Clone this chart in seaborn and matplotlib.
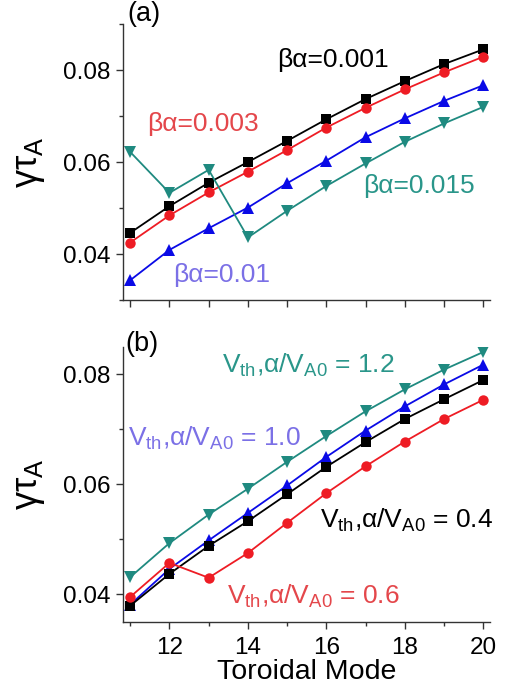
import numpy as np
import pandas as pd
import matplotlib
matplotlib.use('Agg')
import matplotlib.pyplot as plt
from matplotlib.ticker import MultipleLocator
import seaborn as sns

# toroidal mode numbers
modes = list(range(11, 21))

# panel (a): growth rate for different beta_alpha
beta_001 = [0.0446, 0.0504, 0.0555, 0.0600, 0.0646, 0.0693, 0.0737, 0.0776, 0.0813, 0.0845]
beta_003 = [0.0425, 0.0484, 0.0534, 0.0579, 0.0626, 0.0675, 0.0718, 0.0758, 0.0795, 0.0829]
beta_01 = [0.0343, 0.0409, 0.0456, 0.0501, 0.0554, 0.0603, 0.0654, 0.0695, 0.0733, 0.0767]
beta_015 = [0.0622, 0.0533, 0.0583, 0.0436, 0.0494, 0.0548, 0.0597, 0.0644, 0.0684, 0.0720]

# panel (b): growth rate for different V_th,alpha / V_A0
vth_04 = [0.0379, 0.0437, 0.0488, 0.0533, 0.0582, 0.0632, 0.0677, 0.0719, 0.0755, 0.0790]
vth_06 = [0.0395, 0.0457, 0.0430, 0.0475, 0.0530, 0.0584, 0.0633, 0.0678, 0.0719, 0.0754]
vth_10 = [0.0381, 0.0446, 0.0498, 0.0548, 0.0598, 0.0650, 0.0698, 0.0742, 0.0782, 0.0818]
vth_12 = [0.0431, 0.0493, 0.0545, 0.0592, 0.0641, 0.0688, 0.0733, 0.0773, 0.0809, 0.0841]

BLACK = '#000000'
RED = '#ee1c24'
BLUE = '#0a0ae6'
TEAL = '#1f8a80'
RED_TXT = '#e4474b'
BLUE_TXT = '#7b70e6'
TEAL_TXT = '#2a968a'

sns.set_style('ticks')
plt.rcParams['font.family'] = ['Liberation Sans', 'DejaVu Sans']
plt.rcParams['mathtext.fontset'] = 'custom'
plt.rcParams['mathtext.rm'] = 'Liberation Sans'
plt.rcParams['text.color'] = 'black'
plt.rcParams['axes.labelcolor'] = 'black'
plt.rcParams['xtick.color'] = 'black'
plt.rcParams['ytick.color'] = 'black'

fig = plt.figure(figsize=(5.06, 6.91), dpi=100)
ax_a = fig.add_axes([0.2425, 0.5658, 0.726, 0.3994])
ax_b = fig.add_axes([0.2425, 0.1003, 0.726, 0.3975])


def draw(ax, vals, color, marker, ms):
    sns.lineplot(x=modes, y=vals, ax=ax, color=color, marker=marker,
                 markersize=ms, markeredgewidth=0, linewidth=1.3)


draw(ax_a, beta_001, BLACK, 's', 7)
draw(ax_a, beta_003, RED, 'o', 7.5)
draw(ax_a, beta_01, BLUE, '^', 8)
draw(ax_a, beta_015, TEAL, 'v', 8)

draw(ax_b, vth_12, TEAL, 'v', 8)
draw(ax_b, vth_10, BLUE, '^', 8)
draw(ax_b, vth_04, BLACK, 's', 7)
draw(ax_b, vth_06, RED, 'o', 7.5)

ylab = r'γτ$_\mathregular{A}$'
for ax, ylim in [(ax_a, (0.030, 0.090)), (ax_b, (0.035, 0.085))]:
    ax.set_xlim(10.81, 20.17)
    ax.set_ylim(*ylim)
    ax.yaxis.set_minor_locator(MultipleLocator(0.01))
    ax.set_yticks([0.04, 0.06, 0.08])
    ax.set_yticklabels(['0.04', '0.06', '0.08'])
    ax.tick_params(axis='both', which='major', labelsize=17.5, length=5, width=1,
                   direction='out', color='#333333', labelcolor='black', pad=4)
    ax.tick_params(axis='both', which='minor', length=3, width=1,
                   direction='out', color='#333333')
    for s in ['top', 'right']:
        ax.spines[s].set_visible(False)
    for s in ['left', 'bottom']:
        ax.spines[s].set_linewidth(1)
        ax.spines[s].set_color('#333333')
    ax.set_ylabel(ylab, fontsize=26, color='black')
    ax.yaxis.set_label_coords(-0.205, 0.5)
    ax.set_xlabel('')

ax_a.set_xticks(modes)
ax_a.set_xticklabels([])

ax_b.xaxis.set_minor_locator(MultipleLocator(1))
ax_b.set_xticks([12, 14, 16, 18, 20])
ax_b.set_xticklabels(['12', '14', '16', '18', '20'])
ax_b.tick_params(axis='x', which='major', pad=6)
ax_b.set_xlabel('Toroidal Mode', fontsize=20.5, labelpad=0, color='black')

# panel letters
fig.text(127 / 506, 1 - 14 / 691, '(a)', fontsize=19.5, va='center', ha='left')
fig.text(125 / 506, 1 - 344 / 691, '(b)', fontsize=19.5, va='center', ha='left')

# annotations panel (a)
fs = 19
fig.text(277 / 506, 1 - 60 / 691, 'βα=0.001', fontsize=fs, color=BLACK, va='center')
fig.text(147 / 506, 1 - 124 / 691, 'βα=0.003', fontsize=fs, color=RED_TXT, va='center')
fig.text(363 / 506, 1 - 186 / 691, 'βα=0.015', fontsize=fs, color=TEAL_TXT, va='center')
fig.text(173 / 506, 1 - 275 / 691, 'βα=0.01', fontsize=fs, color=BLUE_TXT, va='center')


# annotations panel (b)
def vlab(v):
    return r'V$_\mathregular{th}$,α/V$_\mathregular{A0}$ = ' + v


fig.text(222 / 506, 1 - 365 / 691, vlab('1.2'), fontsize=fs, color=TEAL_TXT, va='center')
fig.text(128 / 506, 1 - 438 / 691, vlab('1.0'), fontsize=fs, color=BLUE_TXT, va='center')
fig.text(320 / 506, 1 - 520 / 691, vlab('0.4'), fontsize=fs, color=BLACK, va='center')
fig.text(227 / 506, 1 - 596 / 691, vlab('0.6'), fontsize=fs, color=RED_TXT, va='center')

fig.savefig('out.png', dpi=100)
